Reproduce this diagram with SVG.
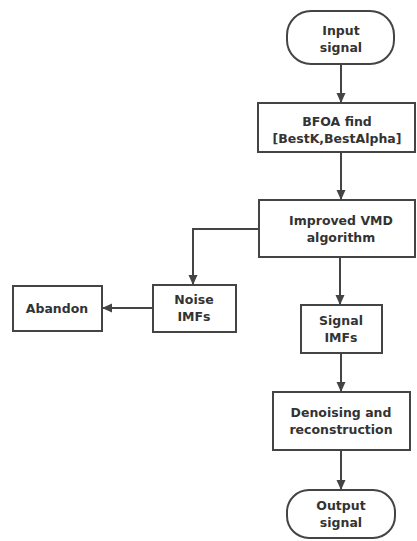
<svg xmlns="http://www.w3.org/2000/svg" width="417" height="541" viewBox="0 0 417 541">
<style>
.b{fill:#fff;stroke:#444;stroke-width:2}
.t{font-family:"DejaVu Sans",sans-serif;font-weight:bold;font-size:12.5px;fill:#333;text-anchor:middle}
.c{fill:none;stroke:#444;stroke-width:2}
</style>
<defs>
<marker id="a" markerWidth="10" markerHeight="10" refX="9" refY="5" orient="auto" markerUnits="userSpaceOnUse">
<path d="M0,0.5 L10,5 L0,9.5 z" fill="#444"/>
</marker>
</defs>
<rect width="417" height="541" fill="#fff"/>
<g id="connectors">
<path class="c" d="M341,64 V102" marker-end="url(#a)"/>
<path class="c" d="M341,152 V199" marker-end="url(#a)"/>
<path class="c" d="M259,229 H193 V284" marker-end="url(#a)"/>
<path class="c" d="M153,308 H103" marker-end="url(#a)"/>
<path class="c" d="M340,257 V304" marker-end="url(#a)"/>
<path class="c" d="M341,353 V391" marker-end="url(#a)"/>
<path class="c" d="M341,450 V489" marker-end="url(#a)"/>
</g>
<g id="input">
<rect class="b" x="287" y="11" width="107" height="53" rx="24"/>
<text class="t" x="341" y="35">Input</text>
<text class="t" x="341" y="52">signal</text>
</g>
<g id="bfoa">
<rect class="b" x="258" y="103" width="157" height="49"/>
<text class="t" x="337" y="126">BFOA find</text>
<text class="t" x="337" y="143">[BestK,BestAlpha]</text>
</g>
<g id="vmd">
<rect class="b" x="259" y="200" width="156" height="57"/>
<text class="t" x="341" y="225">Improved VMD</text>
<text class="t" x="341" y="242">algorithm</text>
</g>
<g id="noise">
<rect class="b" x="153" y="285" width="83" height="47"/>
<text class="t" x="194" y="304">Noise</text>
<text class="t" x="194" y="321">IMFs</text>
</g>
<g id="abandon">
<rect class="b" x="13" y="286" width="89" height="45"/>
<text class="t" x="57" y="313">Abandon</text>
</g>
<g id="signal">
<rect class="b" x="301" y="305" width="81" height="48"/>
<text class="t" x="341" y="325">Signal</text>
<text class="t" x="341" y="342">IMFs</text>
</g>
<g id="denoise">
<rect class="b" x="273" y="392" width="137" height="58"/>
<text class="t" x="341" y="417">Denoising and</text>
<text class="t" x="341" y="434">reconstruction</text>
</g>
<g id="output">
<rect class="b" x="287" y="490" width="108" height="48" rx="22"/>
<text class="t" x="341" y="510">Output</text>
<text class="t" x="341" y="527">signal</text>
</g>
</svg>
